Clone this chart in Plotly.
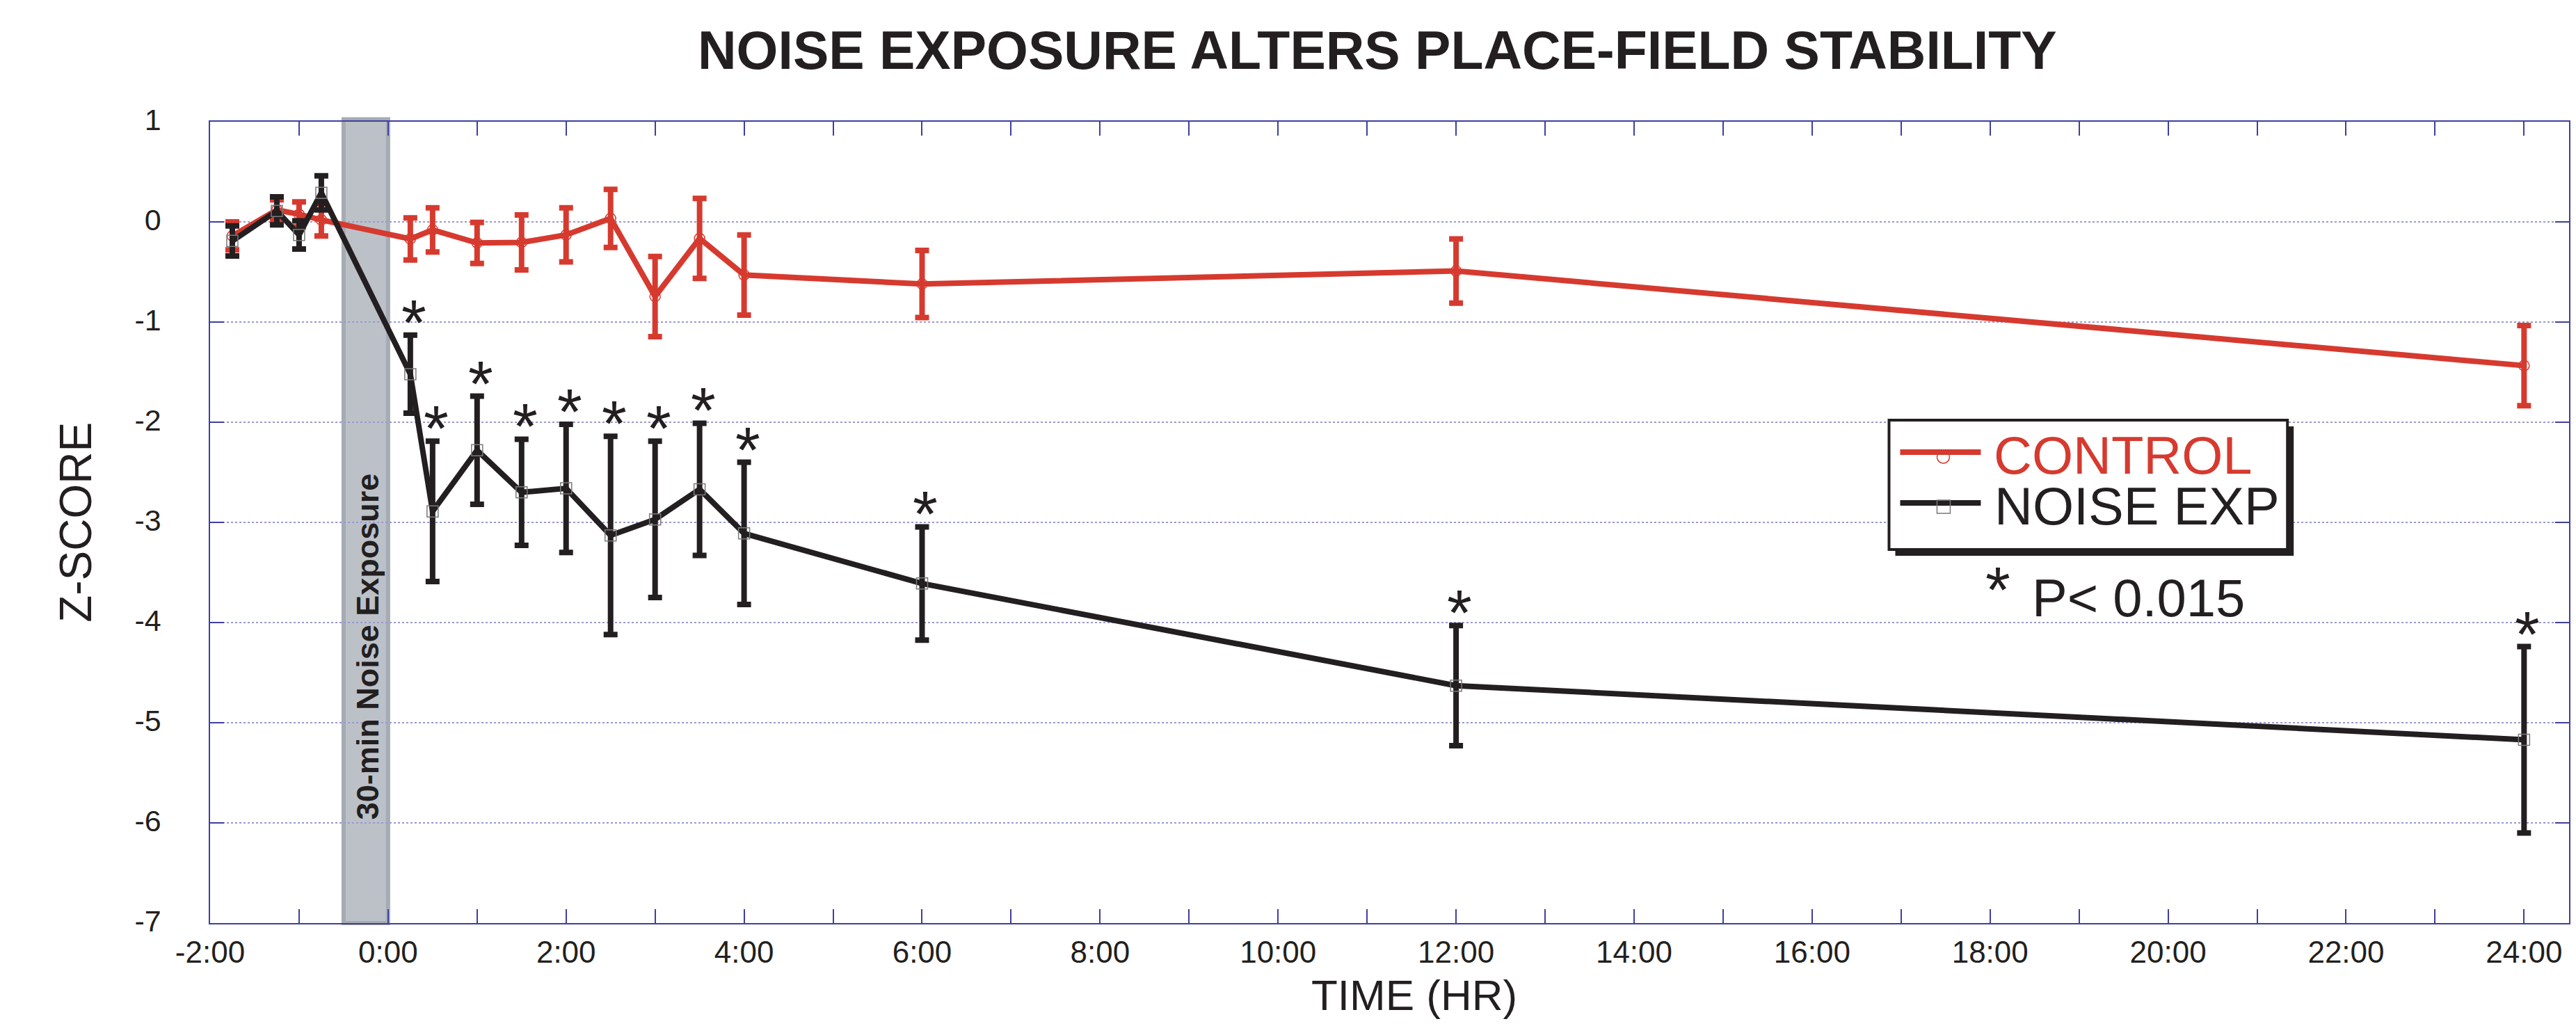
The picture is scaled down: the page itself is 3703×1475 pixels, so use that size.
import plotly.graph_objects as go

# ---------------- data ----------------
time_hr = [-1.75, -1.25, -1.0, -0.75, 0.25, 0.5, 1, 1.5, 2, 2.5, 3, 3.5, 4, 6, 12, 24]
control = [-0.14, 0.12, 0.075, 0.02, -0.17, -0.08, -0.21, -0.205, -0.13, 0.035, -0.745, -0.165, -0.53, -0.62, -0.49, -1.435]
control_err = [0.14, 0.10, 0.125, 0.16, 0.21, 0.22, 0.205, 0.275, 0.27, 0.29, 0.40, 0.40, 0.40, 0.335, 0.32, 0.40]
noise = [-0.19, 0.11, -0.13, 0.29, -1.52, -2.89, -2.28, -2.70, -2.66, -3.13, -2.97, -2.67, -3.11, -3.61, -4.63, -5.17]
noise_err = [0.15, 0.14, 0.14, 0.17, 0.39, 0.70, 0.54, 0.53, 0.64, 0.99, 0.78, 0.66, 0.71, 0.565, 0.60, 0.93]
significant = [False, False, False, False, True, True, True, True, True, True, True, True, True, True, True, True]

x_tickvals = [-2, 0, 2, 4, 6, 8, 10, 12, 14, 16, 18, 20, 22, 24]
x_ticktext = ["-2:00", "0:00", "2:00", "4:00", "6:00", "8:00", "10:00", "12:00",
              "14:00", "16:00", "18:00", "20:00", "22:00", "24:00"]
y_tickvals = [1, 0, -1, -2, -3, -4, -5, -6, -7]
exposure_window = [-0.5, 0.0]

# ---------------- style ----------------
RED = "#D63A2F"
BLK = "#231F20"
BLUE = "#3F3FA0"
GRID = "#9A9AD0"
FONT = "Liberation Sans, Arial, Helvetica, sans-serif"

OFF = 8  # page body margin
W, H = 3703 - 2 * OFF, 1475 - 2 * OFF
L, R, T = 302.3 - OFF, 0, 175 - OFF
B = H - (1327 - OFF)
PW, PH = W - L - R, H - T - B


def px(x):
    return (x - OFF - L) / PW


def py(y):
    return (H - B - (y - OFF)) / PH


fig = go.Figure()

fig.add_trace(go.Scatter(
    x=time_hr, y=control, mode="lines+markers", name="CONTROL",
    line=dict(color=RED, width=8),
    marker=dict(symbol="circle-open", size=15, color=RED, line=dict(width=1.5, color=RED)),
    error_y=dict(type="data", array=control_err, visible=True, color=RED, thickness=8, width=10),
))
fig.add_trace(go.Scatter(
    x=time_hr, y=noise, mode="lines+markers", name="NOISE EXP",
    line=dict(color=BLK, width=8),
    marker=dict(symbol="square-open", size=16, color="#7A7A7A", line=dict(width=1.5, color="#7A7A7A")),
    error_y=dict(type="data", array=noise_err, visible=True, color=BLK, thickness=8, width=10),
))

annotations = []
# significance asterisks
for t, v, e, s in zip(time_hr, noise, noise_err, significant):
    if s:
        annotations.append(dict(x=t, y=v + e, xref="x", yref="y", text="*", showarrow=False,
                                xanchor="center", yanchor="middle", xshift=5, yshift=18,
                                font=dict(family=FONT, size=92, color=BLK)))

# exposure band
fig.add_shape(type="rect", xref="x", yref="paper", x0=exposure_window[0], x1=exposure_window[1],
              y0=0, y1=1.003, fillcolor="#BCC1C8", line=dict(color="#A6ABB3", width=6), layer="below")
annotations.append(dict(x=sum(exposure_window) / 2, y=py(929.5), xref="x", yref="paper",
                        text="<b>30-min Noise Exposure</b>", textangle=-90, showarrow=False,
                        xanchor="center", yanchor="middle", xshift=3,
                        font=dict(family=FONT, size=45, color=BLK)))

# title and axis titles
annotations.append(dict(x=px(1981), y=py(72), xref="paper", yref="paper", showarrow=False,
                        text="<b>NOISE EXPOSURE ALTERS PLACE-FIELD STABILITY</b>",
                        xanchor="center", yanchor="middle", font=dict(family=FONT, size=77, color=BLK)))
annotations.append(dict(x=px(2034), y=py(1430), xref="paper", yref="paper", showarrow=False,
                        text="TIME (HR)", xanchor="center", yanchor="middle",
                        font=dict(family=FONT, size=62, color=BLK)))
annotations.append(dict(x=px(109), y=py(751), xref="paper", yref="paper", showarrow=False,
                        text="Z-SCORE", textangle=-90, xanchor="center", yanchor="middle",
                        font=dict(family=FONT, size=64, color=BLK)))

# custom legend box with drop shadow
shapes = [
    dict(type="rect", xref="paper", yref="paper", x0=px(2726), x1=px(3299), y0=py(799), y1=py(613),
         fillcolor=BLK, line=dict(width=0)),
    dict(type="rect", xref="paper", yref="paper", x0=px(2717), x1=px(3290), y0=py(790), y1=py(604),
         fillcolor="white", line=dict(color=BLK, width=4)),
    dict(type="line", xref="paper", yref="paper", x0=px(2733), x1=px(2849), y0=py(650), y1=py(650),
         line=dict(color=RED, width=8)),
    dict(type="circle", xref="paper", yref="paper", x0=px(2786), x1=px(2804), y0=py(666), y1=py(648),
         line=dict(color=RED, width=1.5)),
    dict(type="line", xref="paper", yref="paper", x0=px(2733), x1=px(2849), y0=py(723), y1=py(723),
         line=dict(color=BLK, width=8)),
    dict(type="rect", xref="paper", yref="paper", x0=px(2786), x1=px(2805), y0=py(738), y1=py(719),
         line=dict(color="#7A7A7A", width=1.5)),
]
for s in shapes:
    fig.add_shape(**s)

annotations.append(dict(x=px(2866), y=py(654.5), xref="paper", yref="paper", showarrow=False,
                        text="CONTROL", xanchor="left", yanchor="middle",
                        font=dict(family=FONT, size=76, color=RED)))
annotations.append(dict(x=px(2867), y=py(727), xref="paper", yref="paper", showarrow=False,
                        text="NOISE EXP", xanchor="left", yanchor="middle",
                        font=dict(family=FONT, size=76, color=BLK)))
annotations.append(dict(x=px(2921), y=py(859), xref="paper", yref="paper", showarrow=False,
                        text="P< 0.015", xanchor="left", yanchor="middle",
                        font=dict(family=FONT, size=76, color=BLK)))
annotations.append(dict(x=px(2874), y=py(832), xref="paper", yref="paper", showarrow=False,
                        text="*", xanchor="center", yanchor="middle", yshift=-16,
                        font=dict(family=FONT, size=92, color=BLK)))

fig.update_layout(
    width=W, height=H,
    margin=dict(l=L, r=R, t=T, b=B, pad=0),
    paper_bgcolor="white", plot_bgcolor="white",
    showlegend=False,
    annotations=annotations,
    font=dict(family=FONT, color=BLK),
)

fig.update_xaxes(
    range=[-2, (W - L) / 128.0 - 2], tickvals=x_tickvals, ticktext=x_ticktext,
    ticks="inside", ticklen=20, tickwidth=1.5, tickcolor=BLUE,
    minor=dict(dtick=1, ticks="inside", ticklen=20, tickwidth=1.5, tickcolor=BLUE, showgrid=False),
    showline=True, linecolor=BLUE, linewidth=2, mirror="allticks",
    showgrid=False, zeroline=False,
    tickfont=dict(family=FONT, size=44, color=BLK), ticklabelstandoff=2,
)
fig.update_yaxes(
    range=[-7, 1], tickvals=y_tickvals, ticktext=[str(v) for v in y_tickvals],
    ticks="inside", ticklen=20, tickwidth=1.5, tickcolor=BLUE,
    showline=True, linecolor=BLUE, linewidth=1.5, mirror="allticks",
    showgrid=True, gridcolor=GRID, gridwidth=2, griddash="dot", zeroline=False,
    tickfont=dict(family=FONT, size=43, color=BLK), ticklabelstandoff=60, ticklabelshift=-3,
)

fig.write_html("out.html")
